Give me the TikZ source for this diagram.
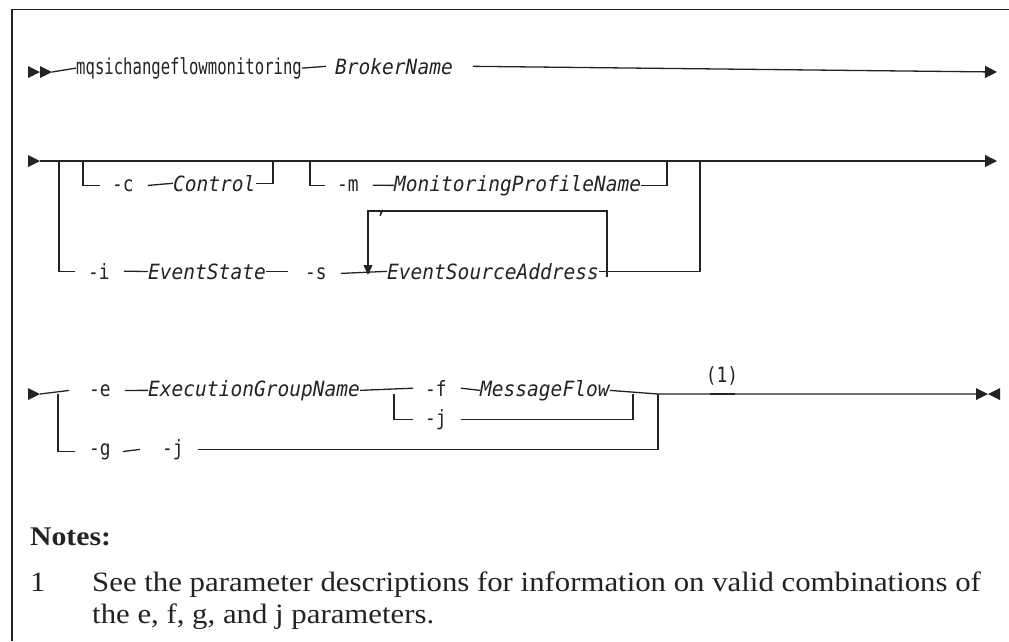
\documentclass[tikz,border=0pt]{standalone}
\usepackage{fontspec}
\usetikzlibrary{arrows.meta,calc}
\newfontfamily\railfont[FakeStretch=0.85]{DejaVu Sans Mono}
\newfontfamily\cmdfont[FakeStretch=0.71]{DejaVu Sans Mono}
\newfontfamily\varfont[FakeStretch=0.93]{DejaVu Sans Mono Oblique}
\newfontfamily\notefont[FakeStretch=1.1]{Liberation Serif}
\definecolor{railgray}{RGB}{35,35,35}
\newcommand{\railhead}[2]{\fill[railgray] (#1,#2) ++(0,-6) -- ++(12,6) -- ++(-12,6) -- cycle;}
\newcommand{\railstop}[2]{\fill[railgray] (#1,#2) ++(12,-6) -- ++(-12,6) -- ++(12,6) -- cycle;}

\begin{document}
\begin{tikzpicture}[x=1pt, y=-1pt,
  rail/.style={line width=1.3pt, draw=railgray},
  tip/.style={-{Triangle[length=12pt,width=12pt]}},
  kw/.style={font=\railfont\fontsize{21}{24}\selectfont, text=railgray, inner sep=0pt, anchor=mid west},
  var/.style={kw, font=\varfont\fontsize{21}{24}\selectfont},
  notetext/.style={font=\notefont\fontsize{28}{34}\selectfont, text=railgray, inner sep=0pt, anchor=base west}]
  \useasboundingbox (0,0) rectangle (1009,641);
  %% 1. Frame
  \draw[line width=1.2pt, railgray] (12,641) -- (12,9.5) -- (1009,9.5);
  %% 2. First line
  \railhead{28}{72} \railhead{40}{72}
  \coordinate (r1a) at (52,72);
  \coordinate (r1e) at (997,72);
  \node[kw, font=\cmdfont\fontsize{22}{24}\selectfont] (cmd) at (76,72) {mqsichangeflowmonitoring};
  \node[var] (broker) at (335,72) {BrokerName};
  \draw[rail] (r1a) -- (cmd.west);
  \draw[rail] (cmd.east) -- ($(broker.west)+(-9,0)$);
  \draw[rail, tip] ($(broker.east)+(20,0)$) -- (r1e);
  %% 3. Second line
  \railhead{28}{161}
  \coordinate (r2a) at (40,161);
  \coordinate (r2e) at (997,161);
  \coordinate (b2l) at (59,161);
  \coordinate (cl) at (83,161);
  \coordinate (cr) at (273,161);
  \coordinate (ml) at (310,161);
  \coordinate (mr) at (667,161);
  \coordinate (or2) at (700,161);
  \draw[rail, tip] (r2a) -- (r2e);
  \node[kw] (optc) at (112,189) {-c};
  \node[var] (ctl) at (173,189) {Control};
  \draw[rail] (cl) |- ($(optc.west)+(-12,0)$);
  \draw[rail] ($(optc.east)+(14,0)$) -- (ctl.west);
  \draw[rail] (ctl.east) -| (cr);
  \node[kw] (optm) at (337,189) {-m};
  \node[var] (mon) at (394,189) {MonitoringProfileName};
  \draw[rail] (ml) |- ($(optm.west)+(-12,0)$);
  \draw[rail] ($(optm.east)+(14,0)$) -- (mon.west);
  \draw[rail] (mon.east) -| (mr);
  \node[kw] (opti) at (88,277) {-i};
  \node[var] (evst) at (148,277) {EventState};
  \node[kw] (opts) at (305,277) {-s};
  \node[var] (esa) at (387,277) {EventSourceAddress};
  \draw[rail] (b2l) |- ($(opti.west)+(-13,0)$);
  \draw[rail] ($(opti.east)+(14,0)$) -- (evst.west);
  \draw[rail] (evst.east) -- ++(22,0);
  \draw[rail] ($(opts.east)+(14,0)$) -- (esa.west);
  \draw[rail] (esa.east) -| (or2);
  %% repeat loop
  \coordinate (lpl) at (368,211);
  \coordinate (lpr) at (607,211);
  \draw[rail, -{Triangle[length=10pt,width=9pt]}, shorten >=2pt] (lpr |- esa.mid west) -- (lpr) -- (lpl) -- (lpl |- esa.mid west);
  \node[kw] (comma) at (376,211) {,};
  %% 4. Third line
  \railhead{28}{394}
  \coordinate (r3a) at (40,394);
  \coordinate (b3l) at (58,394);
  \coordinate (b3m) at (394,394);
  \coordinate (b3r) at (633,394);
  \coordinate (b3o) at (658,394);
  \coordinate (r3e) at (976,394);
  \node[kw] (opte) at (89,394) {-e};
  \node[var] (egn) at (148,394) {ExecutionGroupName};
  \node[kw] (optf) at (425,394) {-f};
  \node[var] (mflow) at (480,394) {MessageFlow};
  \node[kw] (optj) at (425,423) {-j};
  \node[kw] (optg) at (89,453) {-g};
  \node[kw] (optgj) at (162,453) {-j};
  \draw[rail] (r3a) -- ($(opte.west)+(-20,0)$);
  \draw[rail] (b3l) |- ($(optg.west)+(-14,0)$);
  \draw[rail] ($(opte.east)+(14,0)$) -- (egn.west);
  \draw[rail] (egn.east) -- ($(optf.west)+(-12,0)$);
  \draw[rail] (b3m) |- ($(optj.west)+(-12,0)$);
  \draw[rail] ($(optf.east)+(14,0)$) -- (mflow.west);
  \draw[rail] (mflow.east) -- (b3o) -- (r3e);
  \draw[rail] ($(optj.east)+(14,0)$) -| (b3r);
  \draw[rail] ($(optg.east)+(12,0)$) -- ($(optgj.west)+(-22,0)$);
  \draw[rail] ($(optgj.east)+(14,0)$) -| (b3o);
  \draw[line width=2.4pt, railgray] (710,394) -- (735,394);
  \node[kw, anchor=south] (fn) at (722,385) {(1)};
  \railhead{976}{394} \railstop{988}{394}
  %% 5. Notes
  \node[notetext, font=\notefont\bfseries\fontsize{27}{34}\selectfont] (notes) at (30,545) {Notes:};
  \node[notetext] (ntnum) at (30,591) {1};
  \node[notetext] (ntl1) at (92,591) {See the parameter descriptions for information on valid combinations of};
  \node[notetext] (ntl2) at (92,623) {the e, f, g, and j parameters.};
\end{tikzpicture}
\end{document}
